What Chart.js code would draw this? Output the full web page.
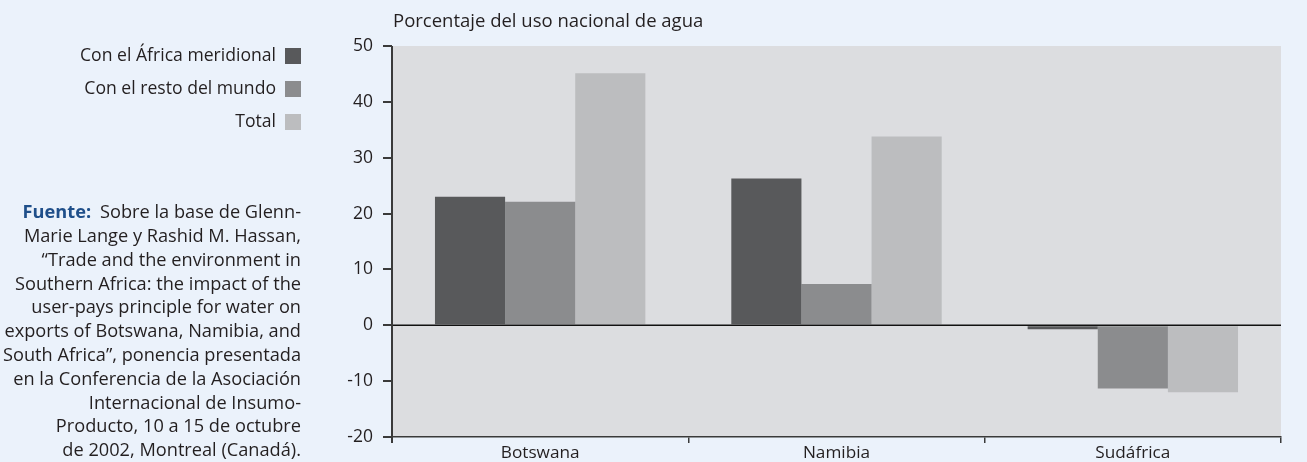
<!DOCTYPE html>
<html>
<head>
<meta charset="utf-8">
<script src="https://cdn.jsdelivr.net/npm/chart.js"></script>
<style>
  html, body { margin: 0; padding: 0; background: #ebf2fb; }
  #wrap { width: 1307px; height: 462px; }
</style>
</head>
<body>
<div id="wrap"><canvas id="myChart"></canvas></div>
<script>
const labels = ['Botswana', 'Namibia', 'Sudáfrica'];
const seriesNames = ['Con el África meridional', 'Con el resto del mundo', 'Total'];
const southernAfrica = [23.0, 26.3, -0.7];
const restOfWorld = [22.1, 7.4, -11.3];
const total = [45.1, 33.8, -12.0];
const yTicks = [50, 40, 30, 20, 10, 0, -10, -20];
const colors = ['#58595b', '#8b8c8e', '#bcbdbf'];
const title = 'Porcentaje del uso nacional de agua';
const sourceLabel = 'Fuente:';
const sourceLines = [
  'Sobre la base de Glenn-',
  'Marie Lange y Rashid M. Hassan,',
  '“Trade and the environment in',
  'Southern Africa: the impact of the',
  'user-pays principle for water on',
  'exports of Botswana, Namibia, and',
  'South Africa”, ponencia presentada',
  'en la Conferencia de la Asociación',
  'Internacional de Insumo-',
  'Producto, 10 a 15 de octubre',
  'de 2002, Montreal (Canadá).'
];

const FONT = '"Open Sans"';
const TEXT = '#231f20';

// plot background, zero line and the side texts
const decor = {
  id: 'decor',
  beforeDraw(chart) {
    const a = chart.chartArea, c = chart.ctx;
    c.save();
    c.fillStyle = '#dcdde0';
    c.fillRect(a.left, a.top, a.right - a.left, a.bottom - a.top);
    c.restore();
  },
  afterDatasetsDraw(chart) {
    const a = chart.chartArea, c = chart.ctx;
    const y0 = chart.scales.y.getPixelForValue(0);
    c.save();
    c.strokeStyle = '#111';
    c.lineWidth = 1.5;
    c.beginPath();
    c.moveTo(a.left, y0);
    c.lineTo(a.right, y0);
    c.stroke();
    // y axis runs a little below the x axis
    c.strokeStyle = '#3a3a3a';
    c.lineWidth = 2;
    c.beginPath();
    c.moveTo(a.left, a.top);
    c.lineTo(a.left, a.bottom + 6);
    c.stroke();
    c.restore();
  },
  afterDraw(chart) {
    const a = chart.chartArea, c = chart.ctx;
    c.save();
    c.textBaseline = 'middle';
    // title
    c.font = '18.5px ' + FONT;
    c.fillStyle = TEXT;
    c.textAlign = 'left';
    c.fillText(title, a.left + 1, 22);
    // legend
    c.font = '17.6px ' + FONT;
    c.textAlign = 'right';
    seriesNames.forEach((n, i) => {
      const cy = 56 + i * 33;
      c.fillStyle = TEXT;
      c.fillText(n, 276, cy);
      c.fillStyle = colors[i];
      c.fillRect(285, cy - 8, 16, 16);
    });
    // source
    sourceLines.forEach((l, i) => {
      const cy = 213 + i * 23.8;
      c.font = '18.2px ' + FONT;
      c.fillStyle = TEXT;
      c.fillText(l, 301, cy);
      if (i === 0) {
        const w = c.measureText(l).width;
        c.font = 'bold 18.2px ' + FONT;
        c.fillStyle = '#1f4f8a';
        c.fillText(sourceLabel, 301 - w - 9, cy);
      }
    });
    c.restore();
  }
};

const data = {
  labels: labels,
  datasets: [
    { label: seriesNames[0], data: southernAfrica, backgroundColor: colors[0] },
    { label: seriesNames[1], data: restOfWorld, backgroundColor: colors[1] },
    { label: seriesNames[2], data: total, backgroundColor: colors[2] }
  ]
};

const config = {
  type: 'bar',
  data: data,
  options: {
    responsive: false,
    animation: false,
    layout: { padding: { left: 340, top: 46, right: 26, bottom: 0 } },
    datasets: { bar: { categoryPercentage: 0.71, barPercentage: 1.0 } },
    plugins: { legend: { display: false }, tooltip: { enabled: false } },
    scales: {
      x: {
        afterFit: s => { s.height = 25; },
        border: { display: true, color: '#3a3a3a', width: 1.5 },
        grid: { offset: true, drawOnChartArea: false, tickLength: 6, color: '#3a3a3a', lineWidth: 1.5 },
        ticks: { color: TEXT, font: { family: FONT, size: 17.2 }, padding: 0 }
      },
      y: {
        min: Math.min(...yTicks),
        max: Math.max(...yTicks),
        afterFit: s => { s.width = 52; },
        afterBuildTicks: s => { s.ticks = yTicks.map(v => ({ value: v })); },
        border: { display: false },
        grid: { drawOnChartArea: false, tickLength: 9, color: '#3a3a3a', lineWidth: 2 },
        ticks: { color: TEXT, font: { family: FONT, size: 17.5 }, padding: 10 }
      }
    }
  },
  plugins: [decor]
};

const cv = document.getElementById('myChart');
cv.width = 1307;
cv.height = 462;
const myChart = new Chart(cv, config);
</script>
</body>
</html>
